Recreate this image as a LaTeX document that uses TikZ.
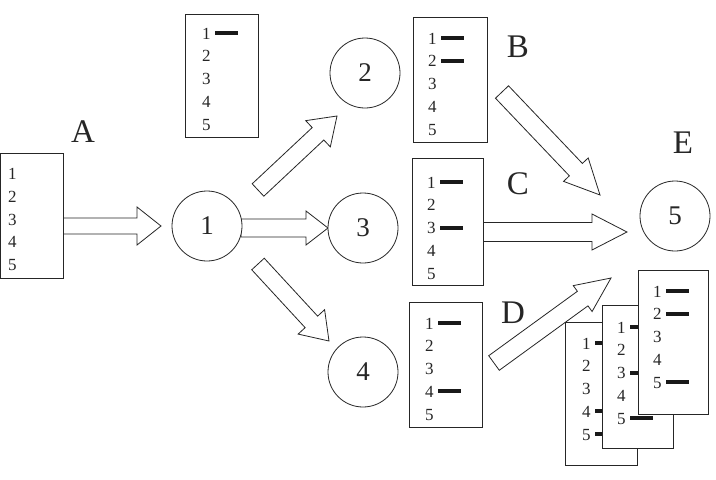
\documentclass[tikz,border=0pt]{standalone}
\usepackage{fontspec}
\setmainfont{Liberation Serif}
\usetikzlibrary{calc}
\tikzset{
  lbox/.style={draw=black!85, fill=white, line width=0.8pt, inner sep=0pt, anchor=north west},
  num/.style={font=\fontsize{17}{17}\selectfont, anchor=base west, inner sep=0pt, text=black!85},
  circ/.style={draw=black!85, fill=white, circle, minimum size=70pt, inner sep=0pt, line width=0.8pt, font=\fontsize{27}{27}\selectfont, text=black!85},
  big/.style={font=\fontsize{33}{33}\selectfont, inner sep=0pt, text=black!85},
  bar/.style={line width=4pt, black!90},
  arrowline/.style={draw=black!85, fill=white, line width=0.8pt, line join=miter},
}
% list box: #1 name, #2 x, #3 y, #4 width, #5 height, #6 digit x offset, #7 first baseline offset
\newcommand\listbox[7]{%
  \node[lbox, minimum width=#4pt, minimum height=#5pt] (#1) at (#2,#3) {};
  \foreach \i in {1,...,5} {
    \node[num] (#1-\i) at ($(#1.north west)+(#6,{#7+22.8*(\i-1)})$) {\i};
  }
}
\newcommand\lbar[1]{\draw[bar] ($(#1.base west)+(13,-6)$) -- ++(23,0);}
% block arrow: #1 from, #2 to, #3 head length, #4 shaft half width, #5 head half width
\newcommand\blockarrow[5]{%
  \coordinate (ba-h) at ($(#2)!#3!(#1)$);
  \draw[arrowline] ($(#1)!#4!90:(#2)$) -- ($(ba-h)!#4!90:(#2)$) -- ($(ba-h)!#5!90:(#2)$) -- (#2)
     -- ($(ba-h)!#5!-90:(#2)$) -- ($(ba-h)!#4!-90:(#2)$) -- ($(#1)!#4!-90:(#2)$) -- cycle;
}
\begin{document}
\begin{tikzpicture}[x=1pt, y=-1pt]
\useasboundingbox[fill=white] (0,0) rectangle (716,480);

% arrow end points
\coordinate (a1s) at (63,226);  \coordinate (a1e) at (161,226);
\coordinate (a2s) at (258,190); \coordinate (a2e) at (337,116);
\coordinate (a3s) at (241,228); \coordinate (a3e) at (328,228);
\coordinate (a4s) at (258,264); \coordinate (a4e) at (329,341);
\coordinate (bs) at (502,92);   \coordinate (be) at (600,195);
\coordinate (cs) at (483,232);  \coordinate (ce) at (627,232);
\coordinate (ds) at (494,363);  \coordinate (de) at (611,278);

\blockarrow{a1s}{a1e}{24pt}{8pt}{19pt}
\blockarrow{a2s}{a2e}{26pt}{8.5pt}{18pt}
\blockarrow{a3s}{a3e}{22pt}{9pt}{17pt}
\blockarrow{a4s}{a4e}{26pt}{8.5pt}{18pt}
\blockarrow{bs}{be}{35pt}{9pt}{17pt}
\blockarrow{cs}{ce}{35pt}{9.5pt}{18pt}
\blockarrow{ds}{de}{35pt}{9pt}{16pt}

% circles
\node[circ] (n1) at (207,226) {1};
\node[circ] (n2) at (365,73) {2};
\node[circ] (n3) at (363,228) {3};
\node[circ] (n4) at (363,372) {4};
\node[circ] (n5) at (675,216) {5};

% boxes
\listbox{A}{0}{153}{63}{125}{8}{26.5}
\listbox{T}{185}{14}{73}{123}{17}{25}
\lbar{T-1}
\listbox{B}{413}{17}{74}{125}{15}{27}
\lbar{B-1}\lbar{B-2}
\listbox{C}{412}{158}{71}{127}{15}{30}
\lbar{C-1}\lbar{C-3}
\listbox{D}{409}{302}{73}{125}{16}{27}
\lbar{D-1}\lbar{D-4}
\listbox{S1}{565}{322}{72}{143}{17}{27}
\lbar{S1-1}\lbar{S1-4}\lbar{S1-5}
\listbox{S2}{602}{305}{71}{143}{15}{28}
\lbar{S2-1}\lbar{S2-3}\lbar{S2-5}
\listbox{S3}{638}{270}{70}{144}{15}{27}
\lbar{S3-1}\lbar{S3-2}\lbar{S3-5}

% labels
\node[big] (lA) at (83,132) {A};
\node[big] (lB) at (518,47) {B};
\node[big] (lC) at (518,184) {C};
\node[big] (lD) at (513,313) {D};
\node[big] (lE) at (683,143) {E};
\end{tikzpicture}
\end{document}
